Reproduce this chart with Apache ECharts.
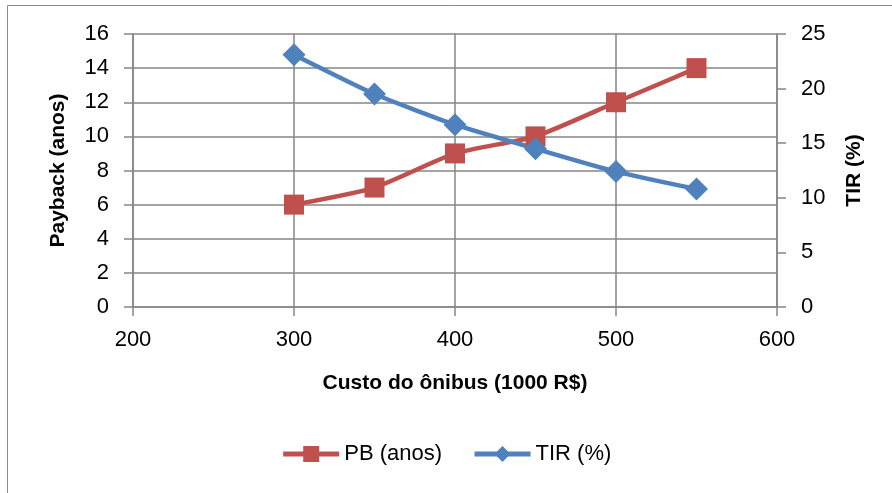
<!DOCTYPE html>
<html>
<head>
<meta charset="utf-8">
<script src="https://cdn.jsdelivr.net/npm/echarts@6/dist/echarts.min.js"></script>
<style>
  html, body { margin: 0; padding: 0; background: #fff; }
  #chart { width: 892px; height: 493px; }
</style>
</head>
<body>
<div id="chart"></div>
<script>
// Bus cost (thousand R$) against payback time and internal rate of return
const custo = [300, 350, 400, 450, 500, 550];
const payback = [6, 7, 9, 10, 12, 14];
const tir = [23.1, 19.5, 16.7, 14.5, 12.4, 10.8];

const FONT = '"Liberation Sans", Arial, sans-serif';
const GRID = '#868686';
const RED = '#C0504D';
const BLUE = '#4F81BD';

const chart = echarts.init(document.getElementById('chart'));
chart.setOption({
  animation: false,
  textStyle: { fontFamily: FONT },
  graphic: [{
    type: 'rect',
    shape: { x: 7.5, y: 5.5, width: 900, height: 500 },
    style: { fill: 'none', stroke: '#8c8c8c', lineWidth: 1 },
    silent: true
  }],
  grid: { left: 133, right: 115, top: 34, bottom: 186 },
  legend: {
    bottom: 23,
    left: 'center',
    itemWidth: 56,
    itemHeight: 20,
    itemGap: 30,
    lineStyle: { width: 5 },
    textStyle: { fontSize: 22, color: '#000', fontFamily: FONT },
    data: ['PB (anos)', 'TIR (%)']
  },
  xAxis: {
    type: 'value',
    min: 200, max: 600, interval: 100,
    name: 'Custo do ônibus (1000 R$)',
    nameLocation: 'middle',
    nameGap: 66,
    nameTextStyle: { fontSize: 21, fontWeight: 'bold', color: '#000' },
    axisLine: { lineStyle: { color: GRID, width: 1.5 } },
    axisTick: { length: 9, lineStyle: { color: GRID, width: 1.5 } },
    axisLabel: { fontSize: 22, color: '#000', margin: 22 },
    splitLine: { show: true, lineStyle: { color: GRID, width: 1.5 } }
  },
  yAxis: [{
    type: 'value',
    min: 0, max: 16, interval: 2,
    name: 'Payback (anos)',
    nameLocation: 'middle',
    nameRotate: 90,
    nameGap: 64,
    nameTextStyle: { fontSize: 21, fontWeight: 'bold', color: '#000' },
    axisLine: { show: true, lineStyle: { color: GRID, width: 1.5 } },
    axisTick: { show: true, length: 9, lineStyle: { color: GRID, width: 1.5 } },
    axisLabel: { fontSize: 22, color: '#000', margin: 24 },
    splitLine: { show: true, lineStyle: { color: GRID, width: 1.5 } }
  }, {
    type: 'value',
    min: 0, max: 25, interval: 5,
    name: 'TIR (%)',
    nameLocation: 'middle',
    nameRotate: 90,
    nameGap: 67,
    nameTextStyle: { fontSize: 21, fontWeight: 'bold', color: '#000' },
    axisLine: { show: true, lineStyle: { color: GRID, width: 1.5 } },
    axisTick: { show: true, length: 9, lineStyle: { color: GRID, width: 1.5 } },
    axisLabel: { fontSize: 22, color: '#000', margin: 24 },
    splitLine: { show: false }
  }],
  series: [{
    name: 'PB (anos)',
    type: 'line',
    yAxisIndex: 0,
    data: custo.map((c, i) => [c, payback[i]]),
    smooth: 0.2,
    symbol: 'rect',
    symbolSize: 20,
    lineStyle: { color: RED, width: 4.5 },
    itemStyle: { color: RED }
  }, {
    name: 'TIR (%)',
    type: 'line',
    yAxisIndex: 1,
    data: custo.map((c, i) => [c, tir[i]]),
    smooth: 0.2,
    symbol: 'diamond',
    symbolSize: 23,
    lineStyle: { color: BLUE, width: 4.5 },
    itemStyle: { color: BLUE }
  }]
});
</script>
</body>
</html>
